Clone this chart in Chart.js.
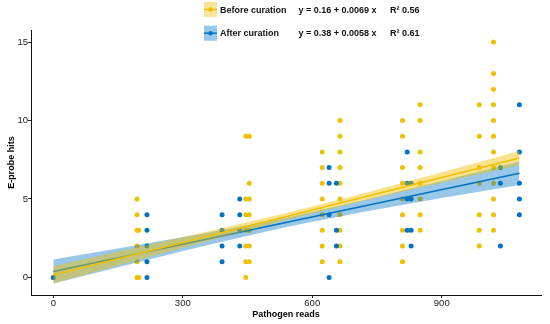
<!DOCTYPE html>
<html><head><meta charset="utf-8">
<script src="https://cdn.jsdelivr.net/npm/chart.js@4/dist/chart.umd.min.js"></script>
<style>html,body{margin:0;padding:0;background:#fff}#wrap{width:550px;height:324px;position:relative}canvas{display:block}</style>
</head><body><div id="wrap"><canvas id="c" width="550" height="324" style="width:550px;height:324px"></canvas></div>
<script>
// ---- data ----
const xTicks = [0, 300, 600, 900];
const yTicks = [0, 5, 10, 15];

const beforeReads = [0,
  194,194,194,194,194,194, 198,198,
  446,446,446,446,446,446,446, 454,454,454,454,454,454,454,
  623,623,623,623,623,623,623,623, 664,664,664,664,664,664,664,664,664,664,
  809,809,809,809,809,809,809,809,809, 850,850,850,850,850,850,850,850,
  987,987,987,987,987,987,987, 1020,1020,1020,1020,1020,1020,1020,1020,1020,1020,1020,1020];
const beforeHits = [0,
  5,4,3,2,1,0, 3,0,
  9,5,4,3,2,1,0, 9,6,5,4,3,2,1,
  8,7,6,5,4,3,2,1, 10,9,8,7,6,5,4,3,2,1,
  10,9,7,6,5,4,3,2,1, 11,10,8,7,6,5,4,3,
  11,9,7,6,4,3,2, 15,13,12,11,10,9,8,7,6,5,4,3];

const afterReads = [0,
  217,217,217,217,217,
  391,391,391,391, 432,432,432,432,
  639,639,639,639, 656,656,656,
  820,820,820,820, 829,829,829,829,
  1036,1036,1036, 1080,1080,1080,1080,1080];
const afterHits = [0,
  4,3,2,1,0,
  4,3,2,1, 5,4,3,2,
  7,6,4,0, 6,3,2,
  8,6,5,3, 6,5,3,2,
  7,6,2, 11,8,6,5,4];

// regression fits (from legend) and confidence bands
const fitRange = [0, 1080];
const beforeFit = {a: 0.16, b: 0.0069};
const afterFit = {a: 0.38, b: 0.0058};
const bandX = [0, 180, 360, 540, 720, 900, 1080];
const beforeLow  = [-0.39, 0.99, 2.34, 3.66, 4.89, 6.04, 7.16];
const beforeHigh = [0.71, 1.82, 2.94, 4.11, 5.37, 6.70, 8.06];
const afterLow   = [-0.39, 0.86, 2.08, 3.21, 4.18, 5.06, 5.89];
const afterHigh  = [1.15, 1.99, 2.86, 3.81, 4.93, 6.14, 7.39];

const legendRows = [
  {label: 'Before curation', eq: 'y = 0.16 + 0.0069 x', r2: 'R\u00B2 0.56'},
  {label: 'After curation',  eq: 'y = 0.38 + 0.0058 x', r2: 'R\u00B2 0.61'}
];

// ---- styles ----
const YEL = '#EFC000', BLU = '#0073C2';
const YEL_F = 'rgba(239,192,0,0.45)', BLU_F = 'rgba(0,115,194,0.40)';
const FONT = '"Liberation Sans", Arial, sans-serif';
Chart.defaults.font.family = FONT;

const pts = (xs, ys) => xs.map((x, i) => ({x, y: ys[i]}));
const fitPts = f => fitRange.map(x => ({x, y: f.a + f.b * x}));

const legendPlugin = {
  id: 'customLegend',
  afterDraw(chart) {
    const ctx = chart.ctx;
    const cols = [[YEL, 'rgb(249,229,153)'], [BLU, 'rgb(153,199,231)']];
    const ys = [9.5, 33.2];
    ctx.save();
    legendRows.forEach((r, i) => {
      const cy = ys[i];
      ctx.fillStyle = cols[i][1];
      ctx.fillRect(204, cy - 7.5, 13, 15);
      ctx.strokeStyle = cols[i][0];
      ctx.lineWidth = 1.5;
      ctx.beginPath(); ctx.moveTo(204, cy); ctx.lineTo(217, cy); ctx.stroke();
      ctx.fillStyle = cols[i][0];
      ctx.beginPath(); ctx.arc(210.5, cy, 2.2, 0, Math.PI * 2); ctx.fill();
      ctx.fillStyle = '#111';
      ctx.font = 'bold 9px ' + FONT;
      ctx.textBaseline = 'middle';
      ctx.fillText(r.label, 220, cy + 0.8);
      ctx.fillText(r.eq, 298.5, cy + 0.8);
      ctx.fillText(r.r2, 390, cy + 0.8);
    });
    ctx.restore();
  }
};

new Chart(document.getElementById('c'), {
  type: 'line',
  data: {
    datasets: [
      {label: 'Before curation', data: pts(beforeReads, beforeHits), showLine: false,
       pointRadius: 2.5, pointBorderWidth: 0, pointBackgroundColor: YEL, order: 10},
      {label: 'After curation', data: pts(afterReads, afterHits), showLine: false,
       pointRadius: 2.5, pointBorderWidth: 0, pointBackgroundColor: BLU, order: 9},
      {label: 'after hi', data: pts(bandX, afterHigh), borderWidth: 0, pointRadius: 0,
       fill: '+1', backgroundColor: BLU_F, order: 8},
      {label: 'after lo', data: pts(bandX, afterLow), borderWidth: 0, pointRadius: 0,
       fill: false, order: 8},
      {label: 'after fit', data: fitPts(afterFit), borderColor: BLU, borderWidth: 1.6,
       pointRadius: 0, fill: false, order: 7},
      {label: 'before hi', data: pts(bandX, beforeHigh), borderWidth: 0, pointRadius: 0,
       fill: '+1', backgroundColor: YEL_F, order: 6},
      {label: 'before lo', data: pts(bandX, beforeLow), borderWidth: 0, pointRadius: 0,
       fill: false, order: 6},
      {label: 'before fit', data: fitPts(beforeFit), borderColor: YEL, borderWidth: 1.6,
       pointRadius: 0, fill: false, order: 5}
    ]
  },
  options: {
    responsive: false,
    maintainAspectRatio: false,
    animation: false,
    devicePixelRatio: 1,
    layout: {padding: {top: 30, right: 9, bottom: 0, left: 0}},
    plugins: {legend: {display: false}, tooltip: {enabled: false}},
    events: [],
    scales: {
      x: {
        type: 'linear', min: -51.7, max: 1130,
        afterBuildTicks: s => { s.ticks = xTicks.map(v => ({value: v})); },
        afterFit: s => { s.height = 29; },
        grid: {drawOnChartArea: false, drawTicks: true, tickLength: 3, color: '#222', lineWidth: 1},
        border: {display: true, color: '#111', width: 1},
        ticks: {padding: 0, color: '#222', font: {size: 9.5}, maxRotation: 0},
        title: {display: true, text: 'Pathogen reads', color: '#000',
                font: {size: 9, weight: 'bold'}, padding: {top: 0, bottom: 4.5}}
      },
      y: {
        type: 'linear', min: -1.12, max: 15.77,
        afterBuildTicks: s => { s.ticks = yTicks.map(v => ({value: v})); },
        afterFit: s => { s.width = 31; },
        grid: {drawOnChartArea: false, drawTicks: true, tickLength: 3, color: '#222', lineWidth: 1},
        border: {display: true, color: '#111', width: 1},
        ticks: {padding: 0, color: '#222', font: {size: 9.5}},
        title: {display: true, text: 'E-probe hits', color: '#000',
                font: {size: 9, weight: 'bold'}, padding: {top: 6.5, bottom: 0}}
      }
    }
  },
  plugins: [legendPlugin]
});
</script>
</body></html>
